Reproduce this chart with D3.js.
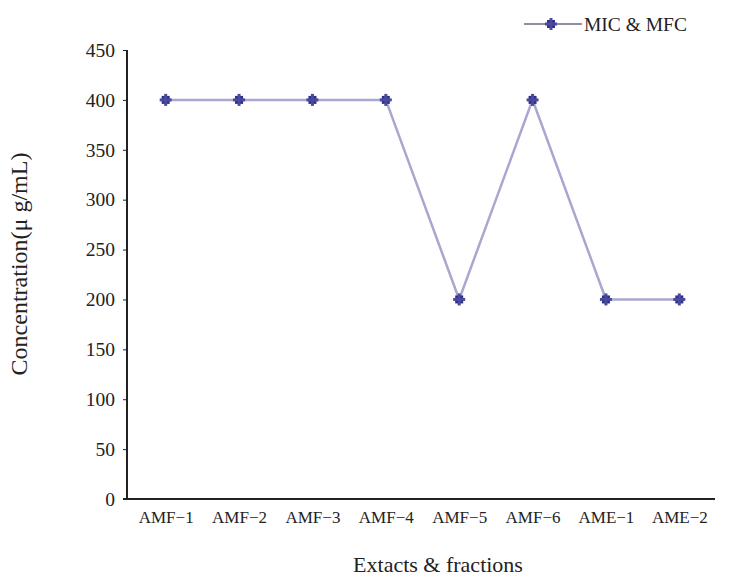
<!DOCTYPE html>
<html>
<head>
<meta charset="utf-8">
<script src="https://cdn.jsdelivr.net/npm/d3@7"></script>
<style>
  body { margin: 0; background: #fff; }
  svg text { font-family: "Liberation Serif", "Times New Roman", serif; fill: #222; }
</style>
</head>
<body>
<svg id="chart" width="731" height="582"></svg>
<script>
const categories = ['AMF\u22121', 'AMF\u22122', 'AMF\u22123', 'AMF\u22124', 'AMF\u22125', 'AMF\u22126', 'AME\u22121', 'AME\u22122'];
const values = [400, 400, 400, 400, 200, 400, 200, 200];
const yTicks = [0, 50, 100, 150, 200, 250, 300, 350, 400, 450];
const seriesName = 'MIC & MFC';

const svg = d3.select('#chart');
const mLeft = 127, mRight = 715, mTop = 50, mBottom = 499;

let x = d3.scalePoint().domain(categories).range([mLeft + 2, mRight + 1]).padding(0.5);
let y = d3.scaleLinear().domain([0, 450]).range([mBottom, mTop]);

// axes
let aY = d3.axisLeft(y).tickValues(yTicks).tickSize(4).tickPadding(8);
let aX = d3.axisBottom(x).tickSize(0).tickPadding(12);

const gy = svg.append('g')
  .attr('transform', `translate(${mLeft}, 0)`)
  .call(aY);
gy.select('.domain').attr('stroke', '#222').attr('stroke-width', 2).attr('d', `M0,${mTop}V${mBottom}`);
gy.selectAll('.tick line').attr('stroke', '#222');
gy.selectAll('text').style('font-size', '19.5px').attr('fill', '#222');

const gx = svg.append('g')
  .attr('transform', `translate(0, ${mBottom})`)
  .call(aX);
gx.select('.domain').attr('stroke', '#222').attr('stroke-width', 2).attr('d', `M${mLeft - 4},0H${mRight}`);
gx.selectAll('text').style('font-size', '17px').attr('fill', '#222');

// line
let line = d3.line().x((d, i) => x(categories[i])).y(d => y(d));
svg.append('path')
  .datum(values)
  .attr('fill', 'none')
  .attr('stroke', '#a9a6cf')
  .attr('stroke-width', 2.5)
  .attr('d', line);

function marker(g, cx, cy) {
  g.append('rect').attr('x', cx - 4).attr('y', cy - 4).attr('width', 8).attr('height', 8).attr('fill', '#2e2e8c');
  g.append('rect').attr('x', cx - 6).attr('y', cy - 1.5).attr('width', 12).attr('height', 3).attr('fill', '#4a4a9c');
  g.append('rect').attr('x', cx - 1.5).attr('y', cy - 6).attr('width', 3).attr('height', 12).attr('fill', '#4a4a9c');
}

const pts = svg.append('g');
values.forEach((v, i) => marker(pts, x(categories[i]), y(v)));

// legend
const lg = svg.append('g');
lg.append('line').attr('x1', 524).attr('x2', 582).attr('y1', 24).attr('y2', 24)
  .attr('stroke', '#8f8f9f').attr('stroke-width', 2);
marker(lg, 551, 24);
lg.append('text').attr('x', 584).attr('y', 31).style('font-size', '19.5px').text(seriesName);

// titles
svg.append('text')
  .attr('x', 438).attr('y', 572)
  .attr('text-anchor', 'middle')
  .style('font-size', '22px')
  .text('Extacts & fractions');

svg.append('text')
  .attr('transform', 'translate(27, 264) rotate(-90)')
  .attr('text-anchor', 'middle')
  .style('font-size', '24px')
  .text('Concentration(\u03bc g/mL)');
</script>
</body>
</html>
